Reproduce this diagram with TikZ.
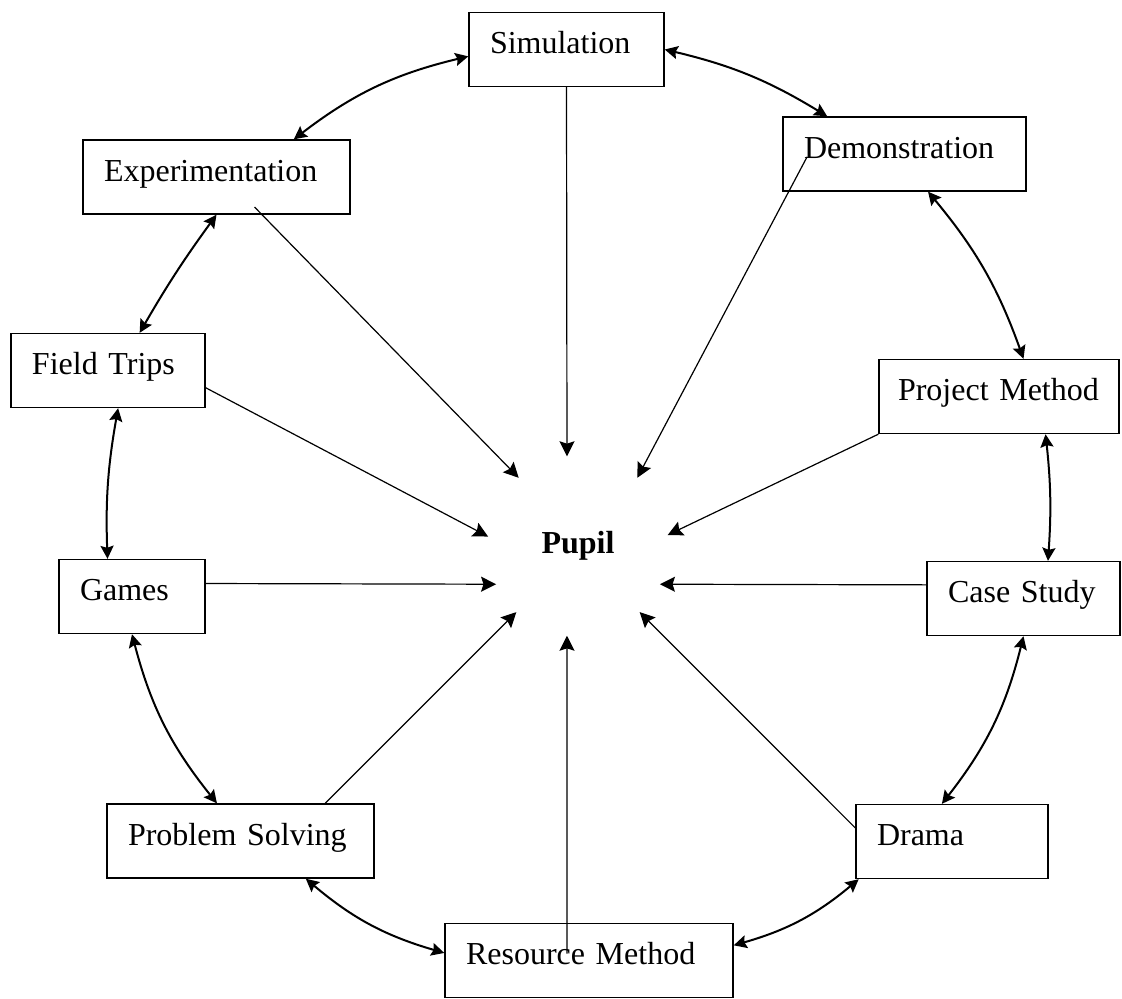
\documentclass[tikz,border=0pt]{standalone}
\usepackage{fontspec}
\setmainfont{Liberation Serif}
\usetikzlibrary{arrows.meta}

\begin{document}
\begin{tikzpicture}[x=0.5pt, y=-0.5pt,
  font=\fontsize{16pt}{19pt}\selectfont,
  method/.style={draw, line width=0.7pt, minimum height=37pt, inner xsep=10.5pt,
    align=left, text height=11pt, text depth=7pt},
  spoke/.style={-{Stealth[length=7.5pt,width=7.5pt,inset=1.2pt]}, line width=0.6pt},
  link/.style={{Stealth[length=6.5pt,width=6.5pt,inset=1pt]}-{Stealth[length=6.5pt,width=6.5pt,inset=1pt]},
    line width=1pt, bend left=#1},
  link/.default=12]
  \useasboundingbox (0,0) rectangle (1122,998);

  % centre
  \node[circle, minimum size=90pt, inner sep=0pt, font=\bfseries\fontsize{16pt}{19pt}\selectfont] (pupil) at (578,546) {Pupil};

  % methods round the ring
  \node[method, text width=76.5pt] (sim) at (566.5,49.5) {Simulation};
  \node[method, text width=100.5pt] (demo) at (904.5,154) {Demonstration};
  \node[method, text width=112.5pt] (exp) at (216.5,177) {Experimentation};
  \node[method, text width=76pt] (ft) at (108,370.5) {Field Trips};
  \node[method, text width=101pt, inner xsep=9.5pt] (pm) at (999,396.5) {Project Method};
  \node[method, text width=52pt] (games) at (132,596.5) {Games};
  \node[method, text width=75.5pt] (cs) at (1023.5,598.5) {Case Study};
  \node[method, text width=112.5pt] (ps) at (240.5,841) {Problem Solving};
  \node[method, text width=75pt] (drama) at (952,841.5) {Drama};
  \node[method, text width=123pt] (res) at (589,960.5) {Resource Method};

  % spokes into the pupil
  \draw[spoke] (sim.south) -- (pupil.97);
  \draw[spoke] ([xshift=19pt,yshift=-15pt]exp.center) -- (pupil.131);
  \draw[spoke] ([xshift=-48.75pt,yshift=-1.5pt]demo.center) -- (pupil.49);
  \draw[spoke] (ft.-10) -- (pupil.174);
  \draw[spoke] (pm.south west) -- (pupil.7);
  \draw[spoke] (games.10) -- (pupil.205);
  \draw[spoke] (cs.172) -- (pupil.-25);
  \draw[spoke] (ps.24) -- (pupil.227);
  \draw[spoke] (drama.172) -- (pupil.313);
  \draw[spoke] ([xshift=-11pt,yshift=3.5pt]res.center) -- (pupil.263);

  % the ring
  \draw[link=9] (sim.east) to (demo.154);
  \draw[link=10] (demo.-58) to (pm.57);
  \draw[link=5] (pm.-39) to (cs.57);
  \draw[link] (cs.south) to (drama.105);
  \draw[link] (drama.202) to (res.6);
  \draw[link] (res.177) to (ps.-30);
  \draw[link] (ps.122) to (games.south);
  \draw[link=6] (games.123) to (ft.-75);
  \draw[link=3] (ft.50) to (exp.south);
  \draw[link] (exp.26) to (sim.184);
\end{tikzpicture}
\end{document}
